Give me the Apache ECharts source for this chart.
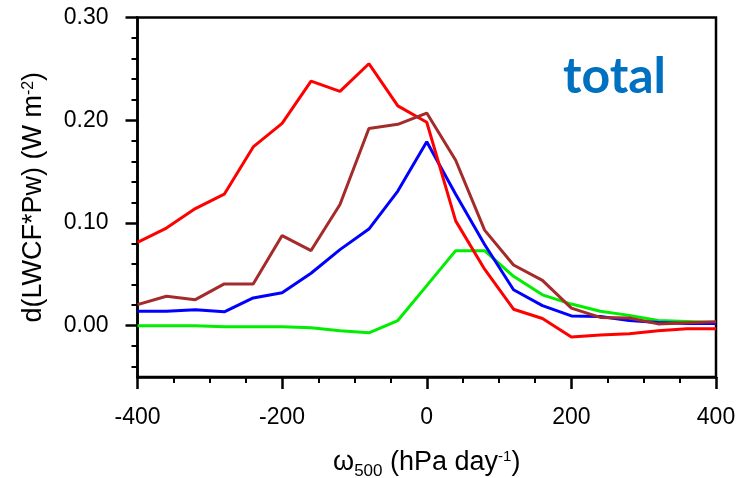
<!DOCTYPE html>
<html>
<head>
<meta charset="utf-8">
<script src="https://cdn.jsdelivr.net/npm/echarts@6/dist/echarts.min.js"></script>
<style>
html,body{margin:0;padding:0;background:#fff;}
#chart{width:743px;height:478px;}
</style>
</head>
<body>
<div id="chart"></div>
<script>
// omega_500 bins (hPa/day)
var omega = [-400,-360,-320,-280,-240,-200,-160,-120,-80,-40,0,40,80,120,160,200,240,280,320,360,400];
var redVals   = [0.081,0.095,0.114,0.128,0.174,0.197,0.238,0.228,0.255,0.214,0.198,0.102,0.055,0.016,0.007,-0.011,-0.009,-0.008,-0.005,-0.003,-0.003];
var blueVals  = [0.014,0.014,0.0155,0.0135,0.027,0.032,0.051,0.074,0.094,0.131,0.179,0.128,0.079,0.035,0.0195,0.0095,0.009,0.005,0.003,0.002,0.002];
var greenVals = [0.000,0.000,0.000,-0.001,-0.001,-0.001,-0.002,-0.005,-0.007,0.005,0.039,0.073,0.073,0.048,0.030,0.021,0.014,0.010,0.005,0.004,0.003];
var brownVals = [0.0205,0.0286,0.0253,0.0406,0.0406,0.0877,0.0731,0.118,0.192,0.196,0.207,0.161,0.093,0.059,0.044,0.017,0.008,0.0075,0.0017,0.0027,0.0037];
var yMajorTicks = [0, 0.1, 0.2, 0.3];
var yMinorTicks = [-0.04,-0.02,0.02,0.04,0.06,0.08,0.12,0.14,0.16,0.18,0.22,0.24,0.26,0.28];
var xTitle = '{w|ω}{sub|500}{n| (hPa day}{sup|-1}{n|)}';
var yTitle = '{n|d(LWCF*Pw) (W m}{sup|-2}{n|)}';
var panelLabel = 'total';

function pairs(vals){ return omega.map(function(x,i){ return [x, vals[i]]; }); }

var FONT = "'Liberation Sans', Arial, Helvetica, sans-serif";
var chart = echarts.init(document.getElementById('chart'), null, {renderer:'canvas'});
var option = {
  animation:false,
  backgroundColor:'#fff',
  grid:{left:137.5, top:17.5, right:27, bottom:101, show:true, borderColor:'#000', borderWidth:2.5,
        backgroundColor:'transparent', outerBoundsMode:'none', containLabel:false},
  xAxis:{
    type:'value', min:-400, max:400, interval:200,
    axisLine:{show:true, onZero:false, lineStyle:{color:'#000', width:2.5}},
    axisTick:{show:true, inside:false, length:12, lineStyle:{color:'#000', width:2.5}},
    minorTick:{show:true, splitNumber:4, length:6, lineStyle:{color:'#000', width:2}},
    splitLine:{show:false},
    axisLabel:{margin:29, fontSize:23, color:'#000', fontFamily:FONT},
    name:xTitle, nameLocation:'middle', nameGap:72,
    nameTextStyle:{color:'#000', fontFamily:FONT, fontSize:27,
      rich:{
        w:{fontSize:27, fontFamily:FONT, color:'#000'},
        sub:{fontSize:17, fontFamily:FONT, color:'#000', verticalAlign:'bottom', padding:[0,0,-4,0]},
        n:{fontSize:27, fontFamily:FONT, color:'#000'},
        sup:{fontSize:15, fontFamily:FONT, color:'#000', verticalAlign:'top'}
      }}
  },
  yAxis:[{
    type:'value', min:-0.05, max:0.30,
    axisLine:{show:true, onZero:false, lineStyle:{color:'#000', width:2.5}},
    axisTick:{show:true, length:12, customValues:yMajorTicks, lineStyle:{color:'#000', width:2.5}},
    splitLine:{show:false},
    axisLabel:{margin:29, fontSize:23, color:'#000', fontFamily:FONT, customValues:yMajorTicks,
      formatter:function(v){ return v.toFixed(2); }},
    name:yTitle, nameLocation:'middle', nameGap:90, nameRotate:90,
    nameTextStyle:{color:'#000', fontFamily:FONT, fontSize:27,
      rich:{
        n:{fontSize:27, fontFamily:FONT, color:'#000'},
        sup:{fontSize:16, fontFamily:FONT, color:'#000', verticalAlign:'top'}
      }}
  },{
    type:'value', min:-0.05, max:0.30, position:'left',
    axisLine:{show:false, onZero:false},
    axisTick:{show:true, length:6, customValues:yMinorTicks, lineStyle:{color:'#000', width:2}},
    axisLabel:{show:false},
    splitLine:{show:false}
  }],
  graphic:[{
    type:'text', left:563, top:52,
    style:{text:panelLabel, fill:'#0070c0', font:"bold 50px Lato, 'Open Sans', sans-serif"}
  }],
  series:[
    {type:'line', name:'green', data:pairs(greenVals), symbol:'none', lineStyle:{color:'#00ee00', width:3}, z:2},
    {type:'line', name:'blue', data:pairs(blueVals), symbol:'none', lineStyle:{color:'#0000ff', width:3}, z:3},
    {type:'line', name:'red', data:pairs(redVals), symbol:'none', lineStyle:{color:'#ff0000', width:3}, z:4},
    {type:'line', name:'brown', data:pairs(brownVals), symbol:'none', lineStyle:{color:'#a52a2a', width:3}, z:5}
  ]
};
chart.setOption(option);
</script>
</body>
</html>
